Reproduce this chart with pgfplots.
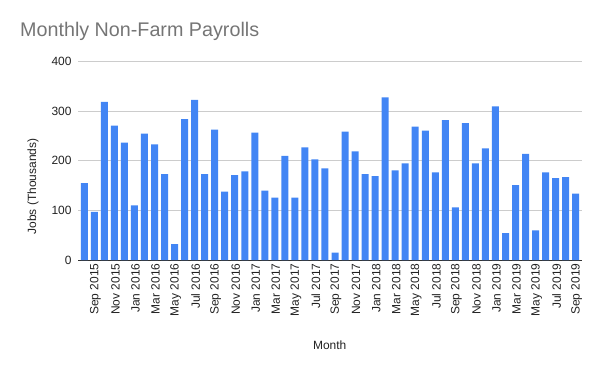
\documentclass[border=0pt]{standalone}
\usepackage{pgfplots}
\pgfplotsset{compat=1.18}
\usepackage{fontspec}
\setmainfont{Liberation Sans}
\definecolor{barblue}{HTML}{4285F4}
\definecolor{titlegray}{HTML}{757575}
\definecolor{gridgray}{HTML}{CCCCCC}
\definecolor{ticktext}{HTML}{222222}
\begin{document}
\begin{tikzpicture}[x=1bp,y=1bp]
\path[use as bounding box] (0,0) rectangle (600,371);
\node[anchor=base west, text=titlegray, font=\fontsize{19.8}{22}\selectfont, inner sep=0] at (20,334.3) {Monthly Non-Farm Payrolls};
\node[anchor=base, text=ticktext, font=\fontsize{12}{14}\selectfont, inner sep=0] at (329.7,22) {Month};
\node[rotate=90, anchor=center, text=ticktext, font=\fontsize{12}{14}\selectfont, inner sep=0] at (33,184.5) {Jobs (Thousands)};
\begin{axis}[at={(78bp,111bp)}, anchor=south west, scale only axis,
  width=504bp, height=198.3bp,
  xmin=-0.63, xmax=49.63, ymin=0, ymax=400,
  axis x line*=bottom, axis y line*=left,
  y axis line style={draw=none},
  x axis line style={draw=black!80, line width=0.8pt},
  ytick={0,100,200,300,400},
  ymajorgrids, grid style={gridgray, line width=0.8pt},
  major tick length=0pt,
  /pgf/number format/assume math mode=true,
  yticklabel style={font=\fontsize{12}{14}\selectfont, text=ticktext, xshift=-3bp},
  xtick={1,3,...,49},
  xticklabels={Sep 2015,Nov 2015,Jan 2016,Mar 2016,May 2016,Jul 2016,Sep 2016,Nov 2016,Jan 2017,Mar 2017,May 2017,Jul 2017,Sep 2017,Nov 2017,Jan 2018,Mar 2018,May 2018,Jul 2018,Sep 2018,Nov 2018,Jan 2019,Mar 2019,May 2019,Jul 2019,Sep 2019},
  xticklabel style={rotate=90, anchor=east, font=\fontsize{12}{14}\selectfont, text=ticktext, yshift=-1bp},
  ybar, bar width=7bp,
]
\addplot[fill=barblue, draw=none, bar shift=0pt] coordinates {
(0,155) (1,97) (2,319) (3,271) (4,237) (5,110) (6,255) (7,233) (8,173) (9,32)
(10,284) (11,323) (12,173) (13,263) (14,138) (15,171) (16,179) (17,257) (18,140) (19,126)
(20,210) (21,126) (22,227) (23,203) (24,185) (25,15) (26,259) (27,219) (28,173) (29,169)
(30,328) (31,181) (32,195) (33,269) (34,261) (35,177) (36,282) (37,106) (38,276) (39,195)
(40,225) (41,310) (42,54) (43,151) (44,214) (45,60) (46,177) (47,165) (48,167) (49,134)
};
\end{axis}
\end{tikzpicture}
\end{document}
